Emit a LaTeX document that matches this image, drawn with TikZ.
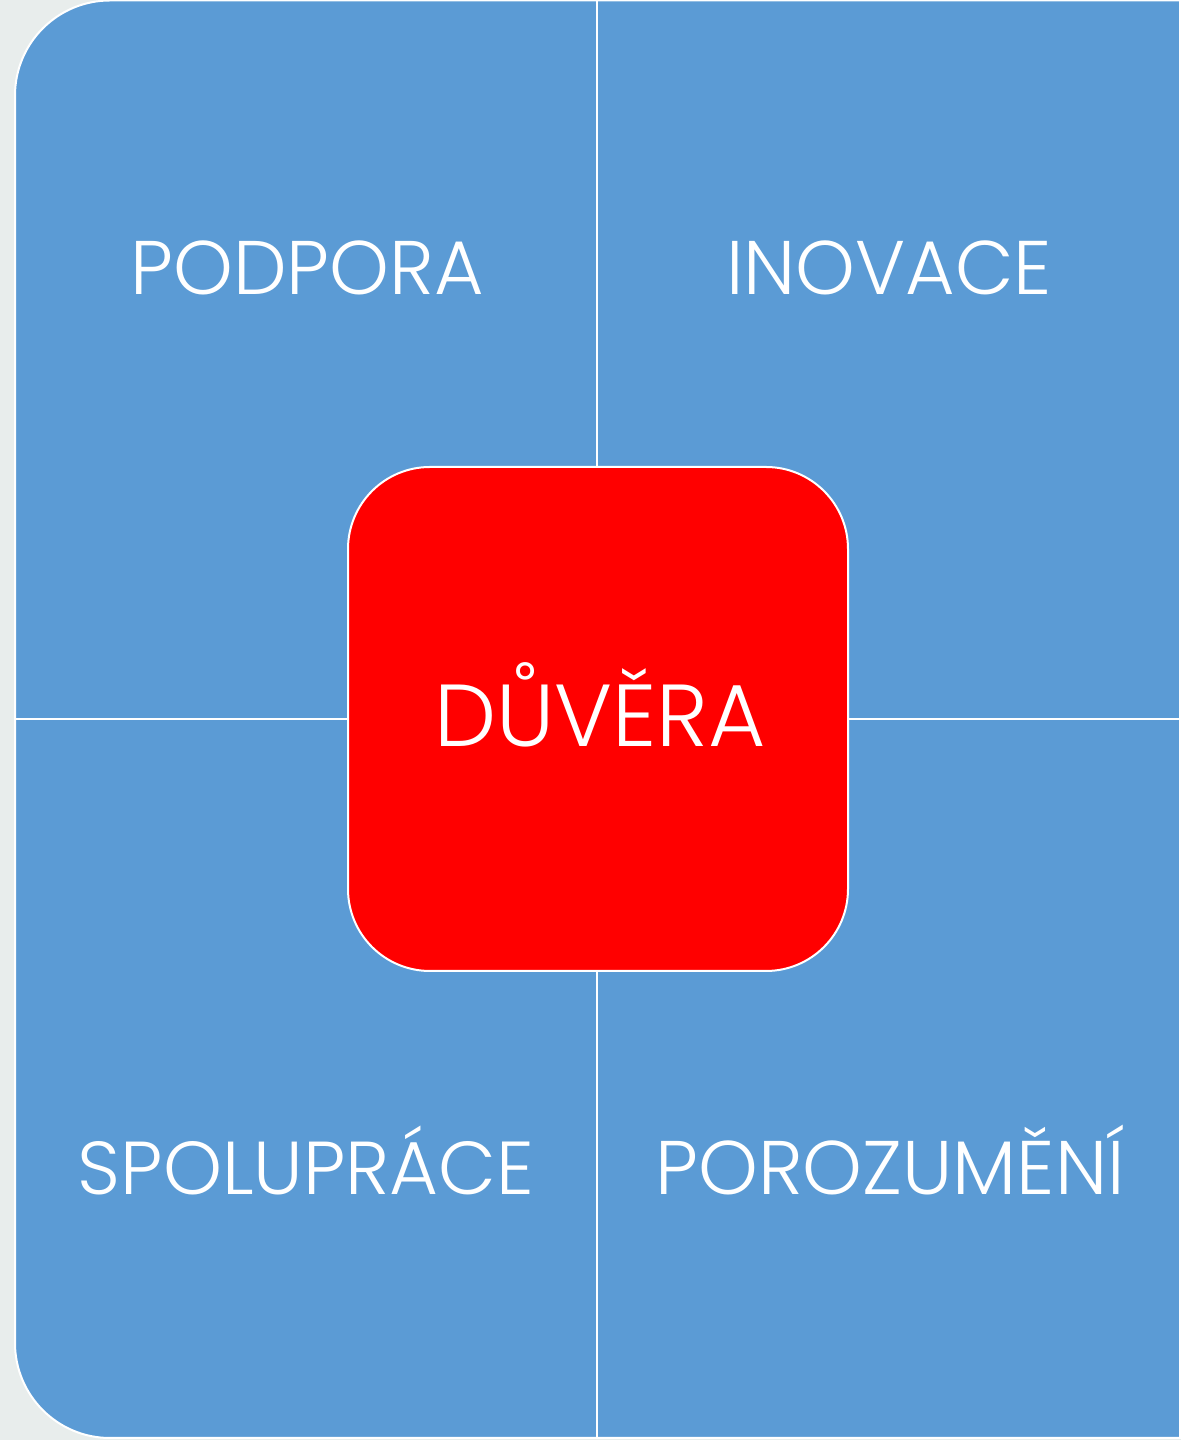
\documentclass[tikz,border=0pt]{standalone}
\usepackage{fontspec}
\setmainfont{Poppins Light}
\definecolor{bgc}{RGB}{232,237,236}
\definecolor{blu}{RGB}{91,155,213}
\definecolor{rd}{RGB}{255,0,0}
\begin{document}
\begin{tikzpicture}[x=0.5pt,y=0.5pt,
  sep/.style={draw=white,line width=1pt},
  lbl/.style={text=white,anchor=base,inner sep=0pt,font=\fontsize{38}{40}\selectfont},
  core/.style={draw=white,line width=1pt,fill=rd,rounded corners=41pt,minimum width=250pt,minimum height=252pt,inner sep=0pt}]
\fill[bgc] (0,0) rectangle (1181,1440);
\useasboundingbox (0,0) rectangle (1181,1440);
\filldraw[fill=blu,draw=white,line width=1pt]
  (1180,1439.5) -- (110,1439.5) arc[start angle=90,end angle=180,radius=47.5pt]
  -- (15,97) arc[start angle=180,end angle=270,radius=47.5pt] -- (1180,2) -- cycle;
\coordinate (vt) at (597,1440);
\coordinate (vb) at (597,2);
\coordinate (hl) at (15,721);
\coordinate (hr) at (1180,721);
\draw[sep] (vt) -- (vb);
\draw[sep] (hl) -- (hr);
\node[core] (c) at (598,721) {};
\node[lbl] (podpora) at (307,1145) {PODPORA};
\node[lbl] (inovace) at (889,1145) {INOVACE};
\node[lbl,font=\fontsize{37.5}{40}\selectfont] (spoluprace) at (306,245) {SPOLUPRÁCE};
\node[lbl] (porozumeni) at (890,245) {POROZUMĚNÍ};
\node[lbl,font=\fontsize{44}{46}\selectfont] (duvera) at (600,693) {DŮVĚRA};
\end{tikzpicture}
\end{document}
